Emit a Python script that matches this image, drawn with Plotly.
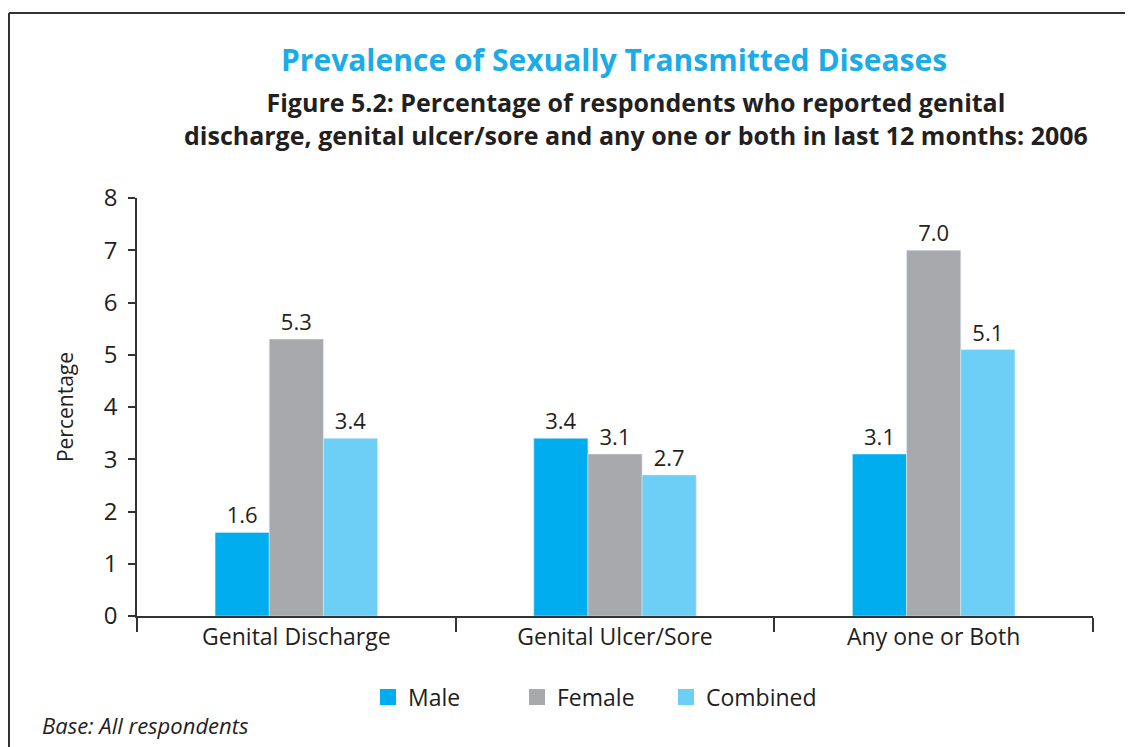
import plotly.graph_objects as go

categories = ["Genital Discharge", "Genital Ulcer/Sore", "Any one or Both"]
male = [1.6, 3.4, 3.1]
female = [5.3, 3.1, 7.0]
combined = [3.4, 2.7, 5.1]
series_names = ["Male", "Female", "Combined"]
colors = ["#00AEEF", "#A7A9AC", "#6DCFF6"]

# page body has an 8px margin, so the figure is drawn from (8, 8)
OFF = 8
W, H = 1133 - OFF, 747 - OFF
L, R, T, B = 137 - OFF, 40, 198 - OFF, 131
font = "Open Sans, sans-serif"
ink = "#231F20"


def px(x):
    # screen x -> paper x
    return (x - OFF - L) / (W - L - R)


def py(y):
    # screen y -> paper y
    return (H - B - (y - OFF)) / (H - T - B)


fig = go.Figure()
for name, vals, col in zip(series_names, [male, female, combined], colors):
    fig.add_trace(go.Bar(
        x=categories, y=vals, name=name, marker_color=col,
        legendgroup=name, showlegend=False,
        text=[f"{v:.1f}" for v in vals], textposition="outside",
        textfont=dict(family=font, size=22, color=ink),
        cliponaxis=False,
    ))
    # legend-only entry with a bigger square swatch
    fig.add_trace(go.Scatter(
        x=[None], y=[None], mode="markers", name=name, legendgroup=name,
        marker=dict(symbol="square", size=22, color=col),
    ))

fig.update_layout(
    width=W, height=H,
    margin=dict(l=L, r=R, t=T, b=B),
    paper_bgcolor="white", plot_bgcolor="white",
    barmode="group", bargap=0.49, bargroupgap=0,
    showlegend=True,
    legend=dict(orientation="h", x=px(368), y=py(697), yanchor="middle",
                xanchor="left", font=dict(family=font, size=23, color=ink),
                itemsizing="trace", entrywidth=104),
    xaxis=dict(showline=True, linecolor="#333", linewidth=1.5,
               ticks="outside", ticklen=14, tickcolor="#333", tickwidth=1.5,
               tickson="boundaries",
               tickfont=dict(family=font, size=23, color=ink)),
    yaxis=dict(range=[0, 8], dtick=1, showgrid=False, zeroline=False,
               showline=True, linecolor="#333", linewidth=1.5,
               ticks="outside", ticklen=7, tickcolor="#333", tickwidth=1.5,
               ticklabelstandoff=6,
               tickfont=dict(family=font, size=24, color=ink),
               title=dict(text="Percentage", standoff=24,
                          font=dict(family=font, size=21, color=ink))),
)

# frame lines
fig.add_shape(type="line", xref="paper", yref="paper",
              x0=px(9), x1=px(1133), y0=py(13), y1=py(13),
              line=dict(color="#333", width=2))
fig.add_shape(type="line", xref="paper", yref="paper",
              x0=px(9), x1=px(9), y0=py(13), y1=py(747),
              line=dict(color="#333", width=2))

fig.add_annotation(text="<b>Prevalence of Sexually Transmitted Diseases</b>",
                   xref="paper", yref="paper", x=px(614), y=py(60),
                   showarrow=False, xanchor="center", yanchor="middle",
                   font=dict(family=font, size=30, color="#1AACE8"))
fig.add_annotation(text="<b>Figure 5.2: Percentage of respondents who reported genital<br>"
                        "discharge, genital ulcer/sore and any one or both in last 12 months: 2006</b>",
                   xref="paper", yref="paper", x=px(636), y=py(119),
                   showarrow=False, xanchor="center", yanchor="middle", align="center",
                   font=dict(family=font, size=25, color=ink))
fig.add_annotation(text="<i>Base: All respondents</i>",
                   xref="paper", yref="paper", x=px(40), y=py(725),
                   showarrow=False, xanchor="left", yanchor="middle",
                   font=dict(family=font, size=22, color=ink))

fig.write_html("out.html")
